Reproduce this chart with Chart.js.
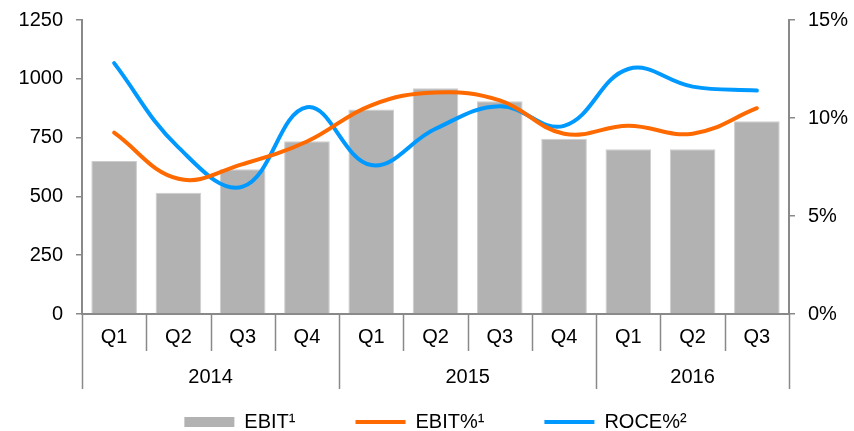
<!DOCTYPE html>
<html>
<head>
<meta charset="utf-8">
<script src="https://cdn.jsdelivr.net/npm/chart.js@4/dist/chart.umd.min.js"></script>
<style>
  body { margin: 0; background: #fff; }
  #chart { display: block; }
</style>
</head>
<body>
<canvas id="chart" width="854" height="431"></canvas>
<script>
// Data
var quarters = ['Q1', 'Q2', 'Q3', 'Q4', 'Q1', 'Q2', 'Q3', 'Q4', 'Q1', 'Q2', 'Q3'];
var years = ['2014', '2015', '2016'];
var quartersPerYear = [4, 4, 3];
var ebit = [650, 515, 615, 735, 870, 960, 905, 745, 700, 700, 820];
var ebitPct = [9.25, 6.9, 7.65, 8.8, 10.65, 11.3, 10.9, 9.2, 9.6, 9.2, 10.5];
var rocePct = [12.8, 8.5, 6.5, 10.55, 7.6, 9.45, 10.6, 9.6, 12.5, 11.6, 11.4];
var leftTicks = [0, 250, 500, 750, 1000, 1250];
var rightTicks = [0, 5, 10, 15];

var AXIS_GREY = '#898989';
var FONT = 'Arial, "Liberation Sans", sans-serif';
var YEAR_ROW = 38;   // height of the year row under the quarter row

// group boundaries and centres (in category index units)
var yearBounds = [-0.5];
var yearCentres = [];
quartersPerYear.forEach(function(n, i) {
    var start = yearBounds[i];
    yearBounds.push(start + n);
    yearCentres.push(start + n / 2);
});

// Separator lines under the x axis (quarters and years)
var separators = {
    id: 'separators',
    afterDraw: function(chart) {
        var x = chart.scales.x;
        var yr = chart.scales.xYear;
        var ctx = chart.ctx;
        ctx.save();
        ctx.strokeStyle = AXIS_GREY;
        ctx.lineWidth = 1.5;
        for (var i = 0; i <= quarters.length; i++) {
            var v = i - 0.5;
            var px = Math.round(x.getPixelForValue(v)) + 0.5;
            var isYear = yearBounds.indexOf(v) !== -1;
            ctx.beginPath();
            ctx.moveTo(px, x.top);
            ctx.lineTo(px, isYear ? yr.top + YEAR_ROW : x.bottom);
            ctx.stroke();
        }
        ctx.restore();
    }
};

// vertical axes: fixed width, no extra top padding for the top label
function fitVertical(width) {
    return function(s) {
        s.width = width;
        s.paddingTop = 0;
    };
}

var ctx = document.getElementById('chart');
new Chart(ctx, {
    type: 'bar',
    data: {
        labels: quarters,
        datasets: [{
            label: 'EBIT¹',
            data: ebit,
            backgroundColor: '#B2B2B2',
            borderColor: '#CDCDCD',
            borderWidth: 1,
            barPercentage: 0.71,
            categoryPercentage: 1,
            yAxisID: 'y',
            order: 3
        }, {
            type: 'line',
            label: 'EBIT%¹',
            data: ebitPct,
            borderColor: '#FF6A00',
            backgroundColor: '#FF6A00',
            borderWidth: 4,
            borderCapStyle: 'round',
            pointRadius: 0,
            tension: 0.4,
            fill: false,
            yAxisID: 'y1',
            order: 1
        }, {
            type: 'line',
            label: 'ROCE%²',
            data: rocePct,
            borderColor: '#0099FF',
            backgroundColor: '#0099FF',
            borderWidth: 4,
            borderCapStyle: 'round',
            pointRadius: 0,
            tension: 0.4,
            fill: false,
            yAxisID: 'y1',
            order: 2
        }]
    },
    options: {
        responsive: false,
        animation: false,
        layout: {
            padding: { top: 20, left: 0, right: 0, bottom: -11 }
        },
        plugins: {
            tooltip: { enabled: false },
            legend: {
                position: 'bottom',
                fullSize: false,
                labels: {
                    font: { family: FONT, size: 20 },
                    color: '#000',
                    usePointStyle: true,
                    pointStyleWidth: 50,
                    boxHeight: 10,
                    padding: 10,
                    generateLabels: function(chart) {
                        var ds = chart.data.datasets;
                        var extra = ['         ', '         ', ''];
                        return ds.map(function(d, i) {
                            var isBar = i === 0;
                            return {
                                text: d.label + extra[i],
                                fillStyle: d.backgroundColor,
                                strokeStyle: d.borderColor,
                                lineWidth: isBar ? 0 : 4,
                                pointStyle: isBar ? 'rect' : 'line',
                                fontColor: '#000',
                                hidden: false,
                                datasetIndex: i
                            };
                        });
                    }
                }
            }
        },
        scales: {
            x: {
                type: 'category',
                position: 'bottom',
                weight: 0,
                afterFit: function(s) { s.height = 37; },
                grid: { display: true, drawOnChartArea: false, drawTicks: false },
                border: { display: true, color: AXIS_GREY, width: 2 },
                ticks: {
                    font: { family: FONT, size: 20 },
                    color: '#000',
                    padding: 11,
                    maxRotation: 0,
                    autoSkip: false
                }
            },
            xYear: {
                type: 'linear',
                position: 'bottom',
                weight: 1,
                offset: false,
                min: -0.5,
                max: quarters.length - 0.5,
                afterFit: function(s) { s.height = 51; },
                afterBuildTicks: function(s) {
                    s.ticks = yearCentres.map(function(v) { return { value: v }; });
                },
                grid: { display: false, drawTicks: false, offset: false },
                border: { display: false },
                ticks: {
                    font: { family: FONT, size: 20 },
                    color: '#000',
                    padding: 14,
                    autoSkip: false,
                    maxRotation: 0,
                    callback: function(v) {
                        var idx = yearCentres.indexOf(v);
                        return idx === -1 ? '' : years[idx];
                    }
                }
            },
            y: {
                position: 'left',
                min: 0,
                max: 1250,
                afterFit: fitVertical(82),
                afterBuildTicks: function(s) {
                    s.ticks = leftTicks.map(function(v) { return { value: v }; });
                },
                grid: { drawOnChartArea: false, drawTicks: true, tickLength: 6, color: AXIS_GREY, lineWidth: 1.5 },
                border: { display: true, color: AXIS_GREY, width: 2 },
                ticks: {
                    font: { family: FONT, size: 20 },
                    color: '#000',
                    padding: 13,
                    callback: function(v) { return String(v); }
                }
            },
            y1: {
                position: 'right',
                min: 0,
                max: 15,
                afterFit: fitVertical(65),
                afterBuildTicks: function(s) {
                    s.ticks = rightTicks.map(function(v) { return { value: v }; });
                },
                grid: { drawOnChartArea: false, drawTicks: true, tickLength: 6, color: AXIS_GREY, lineWidth: 1.5 },
                border: { display: true, color: AXIS_GREY, width: 2 },
                ticks: {
                    font: { family: FONT, size: 20 },
                    color: '#000',
                    padding: 13,
                    crossAlign: 'near',
                    callback: function(v) { return v + '%'; }
                }
            }
        }
    },
    plugins: [separators]
});
</script>
</body>
</html>
